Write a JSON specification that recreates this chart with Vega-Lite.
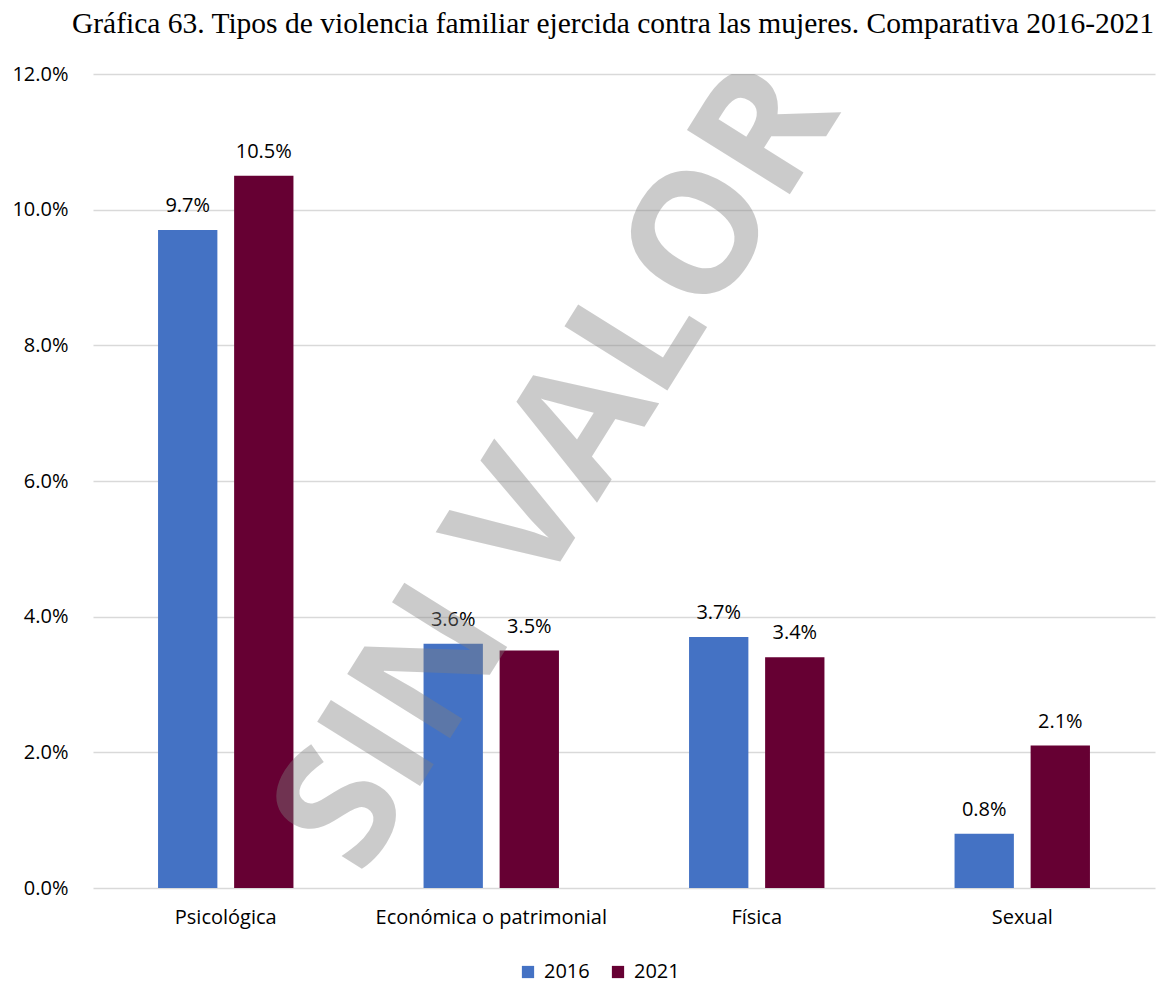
{
  "$schema": "https://vega.github.io/schema/vega-lite/v6.json",
  "width": 1062,
  "height": 814,
  "autosize": {"type": "none"},
  "padding": {"left": 93, "top": 74, "right": 3, "bottom": 93},
  "background": "white",
  "title": {
    "text": "Gráfica 63. Tipos de violencia familiar ejercida contra las mujeres. Comparativa 2016-2021",
    "font": "Liberation Serif",
    "fontSize": 29.5,
    "fontWeight": "normal",
    "color": "#000000",
    "anchor": "middle",
    "frame": "group",
    "dx": -11,
    "offset": 25
  },
  "datasets": {
    "violencia": [
      {"tipo": "Psicológica", "anio": "2016", "valor": 0.097},
      {"tipo": "Psicológica", "anio": "2021", "valor": 0.105},
      {"tipo": "Económica o patrimonial", "anio": "2016", "valor": 0.036},
      {"tipo": "Económica o patrimonial", "anio": "2021", "valor": 0.035},
      {"tipo": "Física", "anio": "2016", "valor": 0.037},
      {"tipo": "Física", "anio": "2021", "valor": 0.034},
      {"tipo": "Sexual", "anio": "2016", "valor": 0.008},
      {"tipo": "Sexual", "anio": "2021", "valor": 0.021}
    ],
    "marca": [{"texto": "COPIA SIN VALOR LEGAL"}]
  },
  "config": {
    "view": {"stroke": null},
    "font": "Open Sans",
    "axis": {"labelFont": "Open Sans", "labelFontSize": 20, "labelColor": "#000000"},
    "legend": {"labelFont": "Open Sans", "labelFontSize": 20, "labelColor": "#000000"}
  },
  "layer": [
    {
      "data": {"name": "violencia"},
      "mark": {"type": "bar"},
      "encoding": {
        "x": {
          "field": "tipo",
          "type": "nominal",
          "sort": ["Psicológica", "Económica o patrimonial", "Física", "Sexual"],
          "scale": {"paddingInner": 0.49, "paddingOuter": 0.245},
          "axis": {"title": null, "labelAngle": 0, "ticks": false, "domain": false, "labelPadding": 19, "labelLimit": 0}
        },
        "xOffset": {
          "field": "anio",
          "type": "nominal",
          "scale": {"paddingInner": 0.22, "paddingOuter": 0}
        },
        "y": {
          "field": "valor",
          "type": "quantitative",
          "scale": {"domain": [0, 0.12], "nice": false},
          "axis": {
            "title": null,
            "values": [0, 0.02, 0.04, 0.06, 0.08, 0.1, 0.12],
            "format": ".1%",
            "ticks": false,
            "domain": false,
            "labelPadding": 25,
            "gridColor": "#d9d9d9",
            "gridWidth": 1.5
          }
        },
        "color": {
          "field": "anio",
          "type": "nominal",
          "scale": {"domain": ["2016", "2021"], "range": ["#4472C4", "#660033"]},
          "legend": {
            "title": null,
            "orient": "none",
            "direction": "horizontal",
            "legendX": 425,
            "legendY": 888,
            "symbolType": "square",
            "symbolSize": 150,
            "symbolStrokeWidth": 0,
            "columnPadding": 18,
            "labelOffset": 6
          }
        }
      }
    },
    {
      "data": {"name": "violencia"},
      "mark": {"type": "text", "baseline": "alphabetic", "dy": -18, "fontSize": 20, "font": "Open Sans", "color": "#000000"},
      "encoding": {
        "x": {"field": "tipo", "type": "nominal", "sort": ["Psicológica", "Económica o patrimonial", "Física", "Sexual"]},
        "xOffset": {"field": "anio", "type": "nominal"},
        "y": {"field": "valor", "type": "quantitative"},
        "text": {"field": "valor", "type": "quantitative", "format": ".1%"}
      }
    },
    {
      "data": {"name": "marca"},
      "mark": {
        "type": "text",
        "font": "Open Sans",
        "fontWeight": "bold",
        "fontSize": 170,
        "angle": -58,
        "align": "center",
        "baseline": "middle",
        "fill": "#808080",
        "opacity": 0.4,
        "dx": 129,
        "clip": true
      },
      "encoding": {
        "x": {"datum": "Económica o patrimonial", "type": "nominal"},
        "y": {"datum": 0.046, "type": "quantitative"},
        "text": {"field": "texto", "type": "nominal"}
      }
    }
  ]
}
